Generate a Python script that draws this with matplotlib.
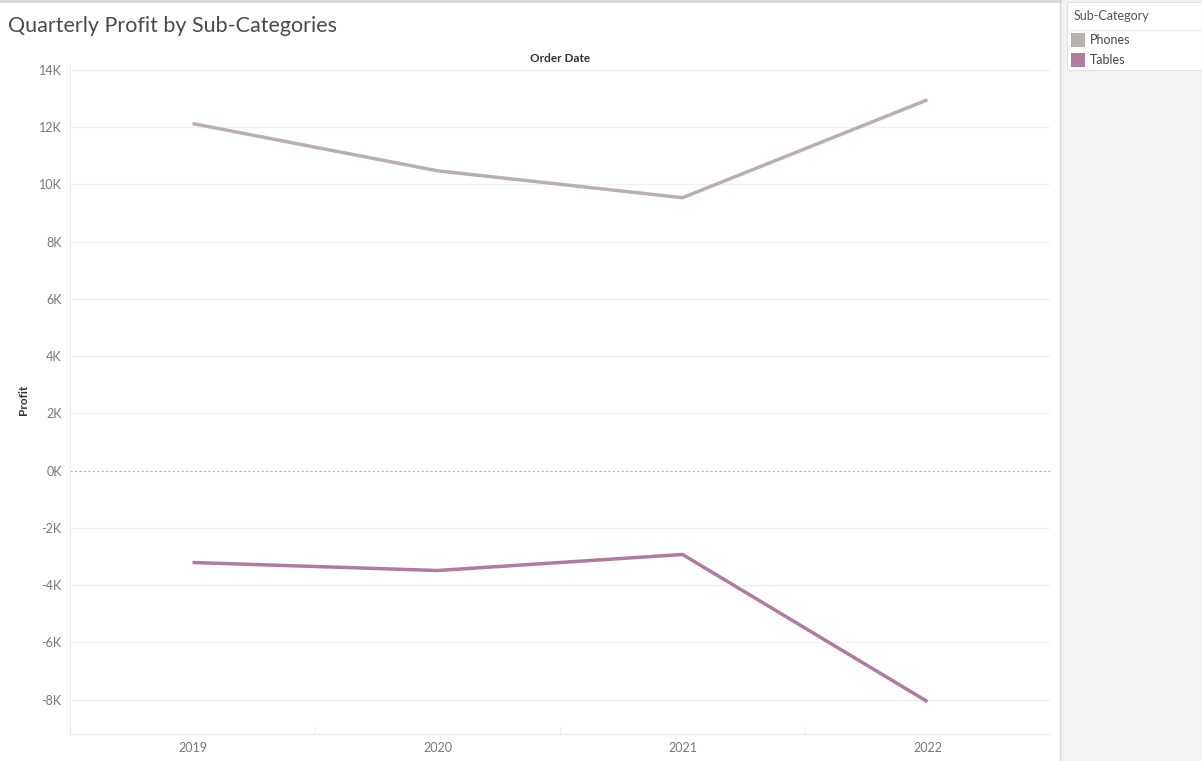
import matplotlib.pyplot as plt
from matplotlib.patches import Rectangle
from matplotlib.lines import Line2D
import numpy as np

# values (thousands)
years = ["2019", "2020", "2021", "2022"]
phones = [12.12, 10.47, 9.53, 12.95]
tables = [-3.21, -3.49, -2.93, -8.07]
yticks = [14, 12, 10, 8, 6, 4, 2, 0, -2, -4, -6, -8]

plt.rcParams['font.family'] = ['Lato', 'DejaVu Sans']

W, H = 1202, 761
fig = plt.figure(figsize=(W / 100, H / 100), dpi=100)
fig.patch.set_facecolor("white")

def px(x0, y0, x1, y1):
    # pixel box (top-left origin) -> figure fraction
    return [x0 / W, 1 - y1 / H, (x1 - x0) / W, (y1 - y0) / H]

# right-hand legend panel
fig.patches.append(Rectangle((1060 / W, 0), (W - 1060) / W, 1, transform=fig.transFigure,
                             facecolor="#f3f3f3", edgecolor="none", zorder=0))
fig.add_artist(Line2D([1060 / W, 1060 / W], [0, 1], color="#d4d4d4", lw=1))
fig.add_artist(Line2D([0, 1060 / W], [1 - 1 / H, 1 - 1 / H], color="#d4d4d4", lw=2))
fig.patches.append(Rectangle((1067 / W, 1 - 70 / H), (W - 1067) / W, 68 / H, transform=fig.transFigure,
                             facecolor="white", edgecolor="#e0e0e0", lw=0.8, zorder=1))
fig.text(1074 / W, 1 - 16 / H, "Sub-Category", fontsize=9, color="#555555", va="center")
fig.add_artist(Line2D([1067 / W, 1], [1 - 30 / H, 1 - 30 / H], color="#ececec", lw=0.8))
colors = {"Phones": "#b9b0ac", "Tables": "#b07aa1"}
for i, name in enumerate(["Phones", "Tables"]):
    yc = 40 + i * 20
    fig.patches.append(Rectangle((1071 / W, 1 - (yc + 7) / H), 14 / W, 14 / H, transform=fig.transFigure,
                                 facecolor=colors[name], edgecolor="none", zorder=2))
    fig.text(1090 / W, 1 - yc / H, name, fontsize=9, color="#444444", va="center")

fig.text(8 / W, 1 - 26 / H, "Quarterly Profit by Sub-Categories", fontsize=15.5, color="#4a4a4a",
         va="center")

ax = fig.add_axes(px(70, 64, 1050, 734))
x = np.arange(len(years))
ax.plot(x, phones, color=colors["Phones"], lw=2.5, solid_capstyle="butt")
ax.plot(x, tables, color=colors["Tables"], lw=2.5, solid_capstyle="butt")

ax.set_xlim(-0.5, 3.5)
ax.set_ylim(-9.2, 14.2)
ax.set_yticks(yticks)
ax.set_yticklabels([f"{v}K" for v in yticks])
ax.set_xticks(x)
ax.set_xticklabels(years)
for v in yticks:
    if v != 0:
        ax.axhline(v, color="#f0f0f0", lw=0.9, zorder=0)
ax.axhline(0, color="#b0b0b0", lw=0.8, ls=(0, (2, 2)), zorder=0)
for b in [0.5, 1.5, 2.5]:
    ax.axvline(b, ymin=0, ymax=0.01, color="#eeeeee", lw=0.8)

ax.tick_params(length=0, labelsize=9, colors="#777777", pad=6)
for s in ["top", "right"]:
    ax.spines[s].set_visible(False)
ax.spines["left"].set_color("#eaeaea")
ax.spines["bottom"].set_color("#eaeaea")

fig.text(560 / W, 1 - 58 / H, "Order Date", fontsize=8.5, color="#333333", ha="center", va="center",
         fontweight="bold")
fig.text(23 / W, 1 - 400 / H, "Profit", fontsize=8.5, color="#333333", ha="center", va="center",
         rotation=90, fontweight="bold")

fig.savefig("out.png", dpi=100)
